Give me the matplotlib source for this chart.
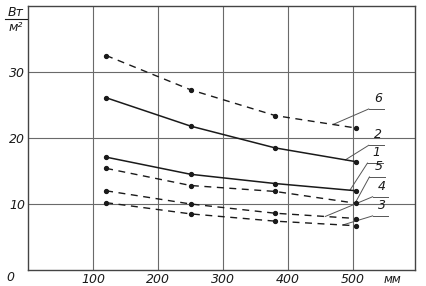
import numpy as np
import matplotlib
matplotlib.use("Agg")
import matplotlib.pyplot as plt
from matplotlib.lines import Line2D

# distance, mm
x_mm = [120, 250, 380, 505]

# heat flux, W/m^2
curve_1 = [17.1, 14.5, 13.1, 12.0]
curve_2 = [26.1, 21.8, 18.5, 16.4]
curve_3 = [10.2, 8.5, 7.4, 6.7]
curve_4 = [12.0, 10.0, 8.6, 7.8]
curve_5 = [15.4, 12.8, 11.9, 10.1]
curve_6 = [32.5, 27.3, 23.4, 21.5]

curve_names = ["1", "2", "3", "4", "5", "6"]
x_ticks = [100, 200, 300, 400, 500]
y_ticks = [10, 20, 30]

curves = [curve_1, curve_2, curve_3, curve_4, curve_5, curve_6]
solid = {"1", "2"}

# label placement: (text x, text y, leader end x)
label_pos = {
    "6": (538, 25.0, 469),
    "2": (538, 19.5, 488),
    "1": (536, 16.8, 495),
    "5": (539, 14.7, 503),
    "4": (544, 11.7, 457),
    "3": (544, 8.8, 484),
}

ink = "#1a1a1a"
fnt = dict(family="DejaVu Sans", style="italic", color=ink)

fig = plt.figure(figsize=(4.26, 2.86), dpi=100)
ax = fig.add_axes([0.066, 0.056, 0.908, 0.923])

for name, ys in zip(curve_names, curves):
    if name in solid:
        ax.plot(x_mm, ys, color=ink, lw=1.1, marker="o", ms=2.8, zorder=3)
    else:
        ax.plot(x_mm, ys, color=ink, lw=1.0, marker="o", ms=2.8,
                dashes=(5, 4), zorder=3)

    tx, ty, lx = label_pos[name]
    ly = np.interp(lx, x_mm, ys)
    ax.text(tx, ty, name, fontsize=9, ha="center", va="bottom", **fnt)
    ax.plot([tx - 14, tx + 10], [ty - 0.6, ty - 0.6], color="#555555", lw=0.7)
    ax.plot([tx - 14, lx], [ty - 0.6, ly], color="#555555", lw=0.7)

ax.set_xlim(0, 595)
ax.set_ylim(0, 40)
ax.set_xticks(x_ticks)
ax.set_yticks(y_ticks)
ax.grid(True, color="#6a6a6a", lw=0.8)
ax.tick_params(length=0, pad=2)
ax.set_xticklabels([str(v) for v in x_ticks], fontsize=9, **fnt)
ax.set_yticklabels([str(v) for v in y_ticks], fontsize=9, **fnt)
for s in ax.spines.values():
    s.set_color("#444444")
    s.set_linewidth(1.0)

ax.text(-0.045, -0.03, "0", transform=ax.transAxes, fontsize=9,
        ha="center", va="center", **fnt)
ax.text(0.965, -0.012, "мм", transform=ax.transAxes, fontsize=8.5,
        ha="right", va="top", **fnt)

# unit in the upper left corner: Вт over м²
fig.text(0.036, 0.935, "Вт", fontsize=9, ha="center", va="bottom", **fnt)
fig.add_artist(Line2D([0.012, 0.064], [0.933, 0.933], color=ink, lw=0.8))
fig.text(0.036, 0.925, "м²", fontsize=9, ha="center", va="top", **fnt)

fig.savefig("out.png", dpi=100)
